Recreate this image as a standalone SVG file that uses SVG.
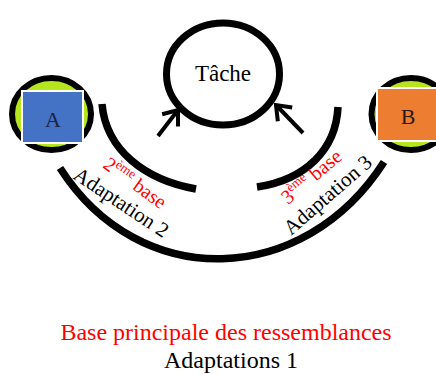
<svg xmlns="http://www.w3.org/2000/svg" width="436" height="374" viewBox="0 0 436 374">
<style>
.t{font-family:"Liberation Serif","Times New Roman",serif}
.red{fill:#ff0000}
.blk{fill:#000}
.arc{fill:none;stroke:#000;stroke-width:7.5}
.arw{fill:none;stroke:#000;stroke-width:4}
.ring{fill:#b5e61d;stroke:#000;stroke-width:6}
</style>
<defs>
<marker id="open" viewBox="-16 -12 20 24" refX="0" refY="0" markerWidth="20" markerHeight="24" markerUnits="userSpaceOnUse" orient="auto">
<path d="M-13,-10 L0,0 L-13,10" fill="none" stroke="#000" stroke-width="4"/>
</marker>
</defs>
<rect width="436" height="374" fill="#fff"/>
<g id="connectors">
<path class="arc" d="M60,168 C140,293 304,287 384,162"/>
<path class="arc" d="M102,104 C106,150 145,180 196,189"/>
<path class="arc" d="M338,107 C336,150 305,180 257,187"/>
<path class="arw" d="M158,136 L178,110" marker-end="url(#open)"/>
<path class="arw" d="M303,133 L276,105" marker-end="url(#open)"/>
</g>
<g id="node-tache">
<ellipse cx="223" cy="74" rx="56.5" ry="51" fill="#fff" stroke="#000" stroke-width="7"/>
<text class="t blk" x="223" y="81" font-size="23" text-anchor="middle">Tâche</text>
</g>
<g id="node-A">
<ellipse class="ring" cx="51.5" cy="114" rx="39.5" ry="36"/>
<rect x="22" y="91" width="61" height="52" fill="#4472c4" stroke="#fff" stroke-width="2"/>
<text class="t" x="53" y="127" font-size="22" text-anchor="middle" fill="#1a2440">A</text>
</g>
<g id="node-B">
<ellipse class="ring" cx="411" cy="114" rx="39.5" ry="36"/>
<rect x="377" y="88" width="61" height="53" fill="#ed7d31" stroke="#fff" stroke-width="2"/>
<text class="t" x="408" y="124" font-size="22" text-anchor="middle" fill="#2a1a10">B</text>
</g>
<g id="labels">
<text class="t red" font-size="20" transform="translate(102,167) rotate(36)">2<tspan font-size="13" dy="-8">ème</tspan><tspan dy="8"> base</tspan></text>
<text class="t blk" font-size="21" transform="translate(72,178) rotate(33.5)">Adaptation 2</text>
<text class="t red" font-size="20" transform="translate(288,205) rotate(-40)">3<tspan font-size="13" dy="-8">ème</tspan><tspan dy="8"> base</tspan></text>
<text class="t blk" font-size="21" transform="translate(291,236) rotate(-41)">Adaptation 3</text>
<text class="t red" x="226" y="340" font-size="24" text-anchor="middle">Base principale des ressemblances</text>
<text class="t blk" x="231" y="368" font-size="24" text-anchor="middle">Adaptations 1</text>
</g>
</svg>
